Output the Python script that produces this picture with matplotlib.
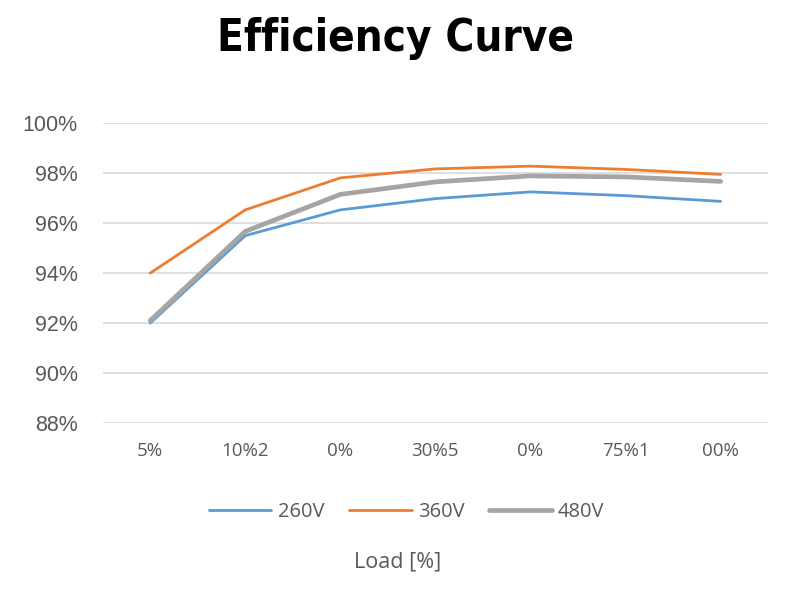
import matplotlib
matplotlib.use('Agg')
import matplotlib.pyplot as plt

plt.rcParams['font.family'] = ['Open Sans', 'DejaVu Sans']

# data
load_labels = ['5%', '10%2', '0%', '30%5', '0%', '75%1', '00%']
eff_260v = [92.0, 95.5, 96.53, 96.98, 97.25, 97.1, 96.87]
eff_360v = [94.0, 96.53, 97.81, 98.17, 98.28, 98.15, 97.95]
eff_480v = [92.1, 95.67, 97.15, 97.65, 97.89, 97.85, 97.67]
y_ticks = [88, 90, 92, 94, 96, 98, 100]

fig = plt.figure(figsize=(7.96, 5.95), dpi=100)
ax = fig.add_axes([0.129, 0.289, 0.836, 0.504])

x = range(len(load_labels))
ax.plot(x, eff_260v, color='#5B9BD5', lw=2.0, label='260V', solid_capstyle='round')
ax.plot(x, eff_360v, color='#ED7D31', lw=2.0, label='360V', solid_capstyle='round')
ax.plot(x, eff_480v, color='#A5A5A5', lw=3.4, label='480V', solid_capstyle='round')

ax.set_xlim(-0.5, len(load_labels) - 0.5)
ax.set_ylim(88, 100)
ax.set_yticks(y_ticks)
ax.set_yticklabels([f'{v}%' for v in y_ticks], fontsize=15.5, family='Liberation Sans')
ax.set_xticks(list(x))
ax.set_xticklabels(load_labels, fontsize=13.5)
ax.tick_params(length=0, colors='#595959')
ax.tick_params(axis='y', pad=18)
ax.tick_params(axis='x', pad=14)
ax.grid(axis='y', color='#D9D9D9', lw=1.2)
ax.set_axisbelow(True)
for s in ax.spines.values():
    s.set_visible(False)

fig.text(0.497, 0.935, 'Efficiency Curve', ha='center', va='center',
         fontsize=31.5, fontweight='bold', fontstretch='condensed', color='black',
         family=['DejaVu Sans Condensed', 'DejaVu Sans'])

fig.legend(loc='center', bbox_to_anchor=(0.511, 0.139), ncol=3, frameon=False,
           fontsize=14.5, handlelength=3.1, columnspacing=1.25, handletextpad=0.3,
           labelcolor='#595959')
fig.text(0.5, 0.055, 'Load [%]', ha='center', va='center', fontsize=15.5, color='#595959')

fig.savefig('out.png', dpi=100)
